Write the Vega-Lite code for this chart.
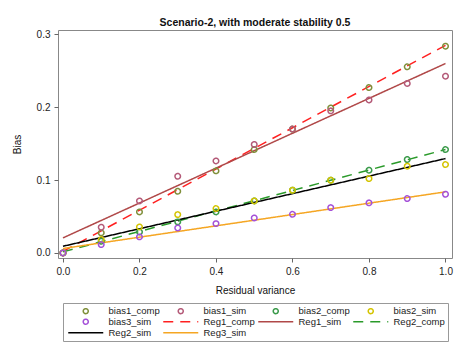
{
  "$schema": "https://vega.github.io/schema/vega-lite/v6.json",
  "width": 394,
  "height": 228,
  "padding": {"left": 12, "top": 17, "right": 2, "bottom": 2},
  "background": "white",
  "title": {
    "text": "Scenario-2, with moderate stability 0.5",
    "font": "Liberation Sans",
    "fontSize": 10.5,
    "fontWeight": "bold",
    "color": "#111",
    "anchor": "middle",
    "offset": 1
  },
  "datasets": {
    "bias": [
      {"x": 0.0, "y": 0.0, "series": "bias1_comp"},
      {"x": 0.1, "y": 0.0275, "series": "bias1_comp"},
      {"x": 0.2, "y": 0.0563, "series": "bias1_comp"},
      {"x": 0.3, "y": 0.0846, "series": "bias1_comp"},
      {"x": 0.4, "y": 0.1126, "series": "bias1_comp"},
      {"x": 0.5, "y": 0.1419, "series": "bias1_comp"},
      {"x": 0.6, "y": 0.170, "series": "bias1_comp"},
      {"x": 0.7, "y": 0.199, "series": "bias1_comp"},
      {"x": 0.8, "y": 0.227, "series": "bias1_comp"},
      {"x": 0.9, "y": 0.2555, "series": "bias1_comp"},
      {"x": 1.0, "y": 0.2838, "series": "bias1_comp"},
      {"x": 0.0, "y": 0.0, "series": "bias1_sim"},
      {"x": 0.1, "y": 0.0352, "series": "bias1_sim"},
      {"x": 0.2, "y": 0.0714, "series": "bias1_sim"},
      {"x": 0.3, "y": 0.1052, "series": "bias1_sim"},
      {"x": 0.4, "y": 0.1263, "series": "bias1_sim"},
      {"x": 0.5, "y": 0.1488, "series": "bias1_sim"},
      {"x": 0.6, "y": 0.170, "series": "bias1_sim"},
      {"x": 0.7, "y": 0.195, "series": "bias1_sim"},
      {"x": 0.8, "y": 0.210, "series": "bias1_sim"},
      {"x": 0.9, "y": 0.2326, "series": "bias1_sim"},
      {"x": 1.0, "y": 0.2426, "series": "bias1_sim"},
      {"x": 0.0, "y": 0.0, "series": "bias2_comp"},
      {"x": 0.1, "y": 0.016, "series": "bias2_comp"},
      {"x": 0.2, "y": 0.0288, "series": "bias2_comp"},
      {"x": 0.3, "y": 0.0426, "series": "bias2_comp"},
      {"x": 0.4, "y": 0.0563, "series": "bias2_comp"},
      {"x": 0.5, "y": 0.0714, "series": "bias2_comp"},
      {"x": 0.6, "y": 0.086, "series": "bias2_comp"},
      {"x": 0.7, "y": 0.0998, "series": "bias2_comp"},
      {"x": 0.8, "y": 0.1135, "series": "bias2_comp"},
      {"x": 0.9, "y": 0.1282, "series": "bias2_comp"},
      {"x": 1.0, "y": 0.1419, "series": "bias2_comp"},
      {"x": 0.0, "y": 0.0, "series": "bias2_sim"},
      {"x": 0.1, "y": 0.0183, "series": "bias2_sim"},
      {"x": 0.2, "y": 0.0357, "series": "bias2_sim"},
      {"x": 0.3, "y": 0.0526, "series": "bias2_sim"},
      {"x": 0.4, "y": 0.0609, "series": "bias2_sim"},
      {"x": 0.5, "y": 0.0714, "series": "bias2_sim"},
      {"x": 0.6, "y": 0.086, "series": "bias2_sim"},
      {"x": 0.7, "y": 0.0998, "series": "bias2_sim"},
      {"x": 0.8, "y": 0.102, "series": "bias2_sim"},
      {"x": 0.9, "y": 0.119, "series": "bias2_sim"},
      {"x": 1.0, "y": 0.1213, "series": "bias2_sim"},
      {"x": 0.0, "y": 0.0, "series": "bias3_sim"},
      {"x": 0.1, "y": 0.0114, "series": "bias3_sim"},
      {"x": 0.2, "y": 0.022, "series": "bias3_sim"},
      {"x": 0.3, "y": 0.0343, "series": "bias3_sim"},
      {"x": 0.4, "y": 0.0402, "series": "bias3_sim"},
      {"x": 0.5, "y": 0.048, "series": "bias3_sim"},
      {"x": 0.6, "y": 0.053, "series": "bias3_sim"},
      {"x": 0.7, "y": 0.0622, "series": "bias3_sim"},
      {"x": 0.8, "y": 0.0687, "series": "bias3_sim"},
      {"x": 0.9, "y": 0.0746, "series": "bias3_sim"},
      {"x": 1.0, "y": 0.0805, "series": "bias3_sim"}
    ],
    "fits": [
      {"x": 0.0, "y": 0.002, "series": "Reg1_comp"},
      {"x": 1.0, "y": 0.285, "series": "Reg1_comp"},
      {"x": 0.0, "y": 0.0206, "series": "Reg1_sim"},
      {"x": 1.0, "y": 0.260, "series": "Reg1_sim"},
      {"x": 0.0, "y": 0.0014, "series": "Reg2_comp"},
      {"x": 1.0, "y": 0.1419, "series": "Reg2_comp"},
      {"x": 0.0, "y": 0.0091, "series": "Reg2_sim"},
      {"x": 1.0, "y": 0.1295, "series": "Reg2_sim"},
      {"x": 0.0, "y": 0.006, "series": "Reg3_sim"},
      {"x": 1.0, "y": 0.0838, "series": "Reg3_sim"}
    ]
  },
  "encoding": {
    "x": {
      "field": "x", "type": "quantitative",
      "scale": {"domain": [-0.013, 1.017], "nice": false, "zero": false},
      "axis": {"title": "Residual variance", "values": [0, 0.2, 0.4, 0.6, 0.8, 1.0], "format": ".1f", "titlePadding": 9}
    },
    "y": {
      "field": "y", "type": "quantitative",
      "scale": {"domain": [-0.007, 0.306], "nice": false, "zero": false},
      "axis": {"title": "Bias", "values": [0, 0.1, 0.2, 0.3], "format": ".1f", "titlePadding": 14}
    },
    "color": {
      "field": "series", "type": "nominal",
      "scale": {
        "domain": ["bias1_comp", "bias1_sim", "bias2_comp", "bias2_sim", "bias3_sim", "Reg1_comp", "Reg1_sim", "Reg2_comp", "Reg2_sim", "Reg3_sim"],
        "range": ["#7f8f3a", "#b45a78", "#3a9a4a", "#d4c400", "#a450d8", "#ff2020", "#b04848", "#2a9a2a", "#000000", "#f5a623"]
      },
      "legend": {
        "title": null,
        "orient": "bottom",
        "direction": "horizontal",
        "columns": 4,
        "gridAlign": "all",
        "symbolSize": 25,
        "symbolStrokeWidth": 1.5,
        "symbolOffset": 15,
        "labelFont": "Liberation Sans",
        "labelFontSize": 9.5,
        "labelColor": "#222",
        "labelOffset": 18,
        "columnPadding": 0,
        "rowPadding": -2.5,
        "padding": 3,
        "offset": 8,
        "strokeColor": "#999"
      }
    },
    "strokeDash": {
      "field": "series", "type": "nominal",
      "scale": {
        "domain": ["bias1_comp", "bias1_sim", "bias2_comp", "bias2_sim", "bias3_sim", "Reg1_comp", "Reg1_sim", "Reg2_comp", "Reg2_sim", "Reg3_sim"],
        "range": [[1, 0], [1, 0], [1, 0], [1, 0], [1, 0], [10, 7], [1, 0], [10, 7], [1, 0], [1, 0]]
      }
    }
  },
  "layer": [
    {
      "data": {"name": "fits"},
      "mark": {"type": "line", "strokeWidth": 1.5},
      "encoding": {"detail": {"field": "series"}}
    },
    {
      "data": {"name": "bias"},
      "mark": {"type": "point", "filled": false, "size": 30, "strokeWidth": 1.5, "opacity": 1},
      "encoding": {
        "shape": {
          "field": "series", "type": "nominal",
          "scale": {
            "domain": ["bias1_comp", "bias1_sim", "bias2_comp", "bias2_sim", "bias3_sim", "Reg1_comp", "Reg1_sim", "Reg2_comp", "Reg2_sim", "Reg3_sim"],
            "range": [
              "M-7,0M7,0M-1,0A1,1 0 1,0 1,0A1,1 0 1,0 -1,0Z",
              "M-7,0M7,0M-1,0A1,1 0 1,0 1,0A1,1 0 1,0 -1,0Z",
              "M-7,0M7,0M-1,0A1,1 0 1,0 1,0A1,1 0 1,0 -1,0Z",
              "M-7,0M7,0M-1,0A1,1 0 1,0 1,0A1,1 0 1,0 -1,0Z",
              "M-7,0M7,0M-1,0A1,1 0 1,0 1,0A1,1 0 1,0 -1,0Z",
              "M-7,0H7", "M-7,0H7", "M-7,0H7", "M-7,0H7", "M-7,0H7"
            ]
          }
        }
      }
    }
  ],
  "config": {
    "font": "Liberation Sans",
    "view": {"stroke": "#888", "strokeWidth": 1},
    "legend": {"layout": {"bottom": {"anchor": "middle"}}},
    "axis": {
      "domain": false,
      "grid": false,
      "tickColor": "#666",
      "tickSize": 4,
      "labelFont": "Liberation Sans",
      "labelFontSize": 10,
      "labelColor": "#222",
      "labelPadding": 4,
      "titleFont": "Liberation Sans",
      "titleFontSize": 10,
      "titleFontWeight": "normal",
      "titleColor": "#111"
    }
  }
}
